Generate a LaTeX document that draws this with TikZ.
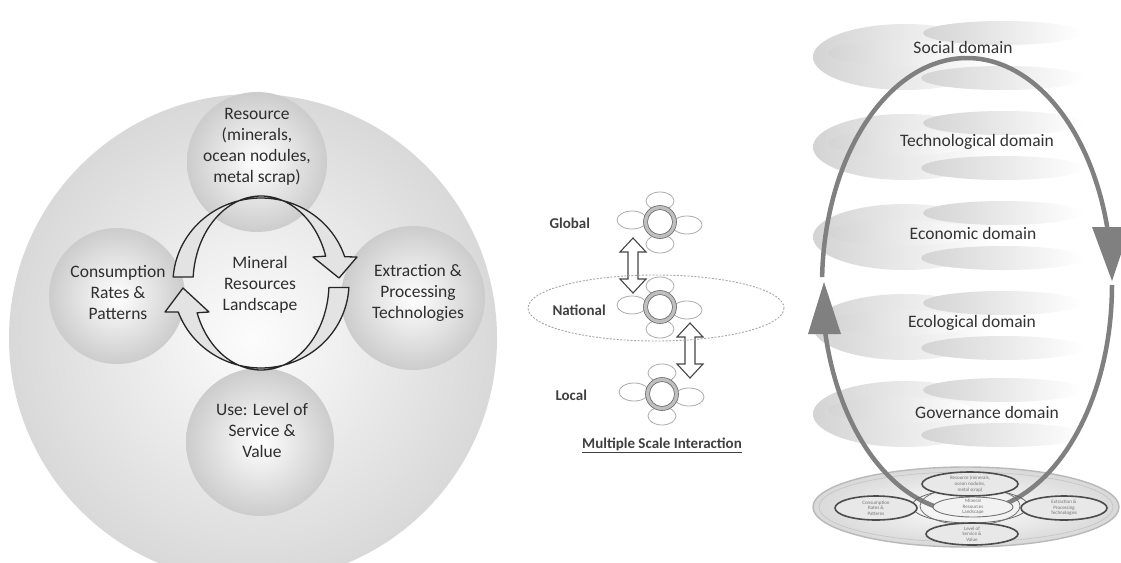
\documentclass[tikz,border=0pt]{standalone}
\usepackage{fontspec}
\setmainfont{Carlito}
\newcommand\clus[2]{%
 \begin{scope}[shift={(#1,#2)}]
  \filldraw[petal] (0,-21) ellipse[x radius=14,y radius=9];
  \filldraw[petal] (-28,-2) ellipse[x radius=15,y radius=9];
  \filldraw[petal] (27,3) ellipse[x radius=15,y radius=9];
  \filldraw[petal] (0,22) ellipse[x radius=14,y radius=9];
  \fill[white] (0,0) circle[radius=13];
  \filldraw[fill=gray!50,draw=black!60,line width=0.6pt,even odd rule] (0,0) circle[radius=16.5] (0,0) circle[radius=12.5];
 \end{scope}}
\newcommand\dblarrow[3]{%
 \filldraw[dbl] (#1,#2) -- (#1+13,#2+14) -- (#1+5,#2+14) -- (#1+5,#3-14) -- (#1+13,#3-14) -- (#1,#3) -- (#1-13,#3-14) -- (#1-5,#3-14) -- (#1-5,#2+14) -- (#1-13,#2+14) -- cycle;}
\newcommand\domaincloud[1]{%
 \shade[left color=gray!34, right color=white] (905,#1+37) ellipse[x radius=92, y radius=33];
 \shade[lens] (1003,#1+13) ellipse[x radius=80, y radius=12];
 \shade[lens] (900,#1+33) ellipse[x radius=72, y radius=13];
 \shade[lens] (1003,#1+58) ellipse[x radius=82, y radius=12];}
\begin{document}
\begin{tikzpicture}[x=1pt,y=-1pt,
  sphere/.style={inner color=white, outer color=gray!40},
  lbl/.style={font=\fontsize{17.5}{21}\selectfont, text=black!82, align=center},
  band/.style={draw=black!85, line width=1.3pt, fill=gray!22, line join=round},
  petal/.style={draw=gray!65, line width=0.8pt, fill=white},
  scl/.style={font=\bfseries\fontsize{15}{17}\selectfont, text=black!75},
  dbl/.style={draw=gray!55!black, line width=1.1pt, fill=white, line join=miter},
  lens/.style={left color=gray!34, right color=white},
  dom/.style={font=\fontsize{17.5}{20}\selectfont, text=black!80},
  loop/.style={draw=black!50, line width=4.5pt},
  head/.style={fill=black!50},
  smallell/.style={draw=black!70, line width=1.6pt, fill=gray!18},
  tiny/.style={font=\fontsize{5}{5.6}\selectfont, text=black!55, align=center, inner sep=0pt}]
\useasboundingbox (0,0) rectangle (1121,562);
\clip (0,0) rectangle (1121,562);
\fill[white] (0,0) rectangle (1121,562);

% ---------- left diagram ----------
\shade[inner color=gray!2, outer color=gray!30] (253,338) circle[radius=244];
\shade[sphere] (257,162) circle[radius=70];
\shade[sphere] (117,296) circle[radius=68];
\shade[sphere] (413,298) circle[radius=72];
\shade[sphere] (260,442) circle[radius=74];

\filldraw[band]
 plot[domain=184:342,samples=60,variable=\t] ({261+88*cos(\t)},{283+85*sin(\t)})
 -- (357,257) -- (339,278) -- (313,257)
 -- plot[domain=342:184,samples=60,variable=\t] ({261+68*cos(\t)},{283+87*sin(\t)})
 -- cycle;
\filldraw[band]
 plot[domain=3:160,samples=60,variable=\t] ({261+88*cos(\t)},{283+85*sin(\t)})
 -- (165,312) -- (183,288) -- (209,312)
 -- plot[domain=160:3,samples=60,variable=\t] ({261+68*cos(\t)},{283+87*sin(\t)})
 -- cycle;

\node[lbl] (res) at (257,147) {Resource\\(minerals,\\ocean nodules,\\metal scrap)};
\node[lbl] (con) at (118,293) {Consumption\\Rates \&\\Patterns};
\node[lbl] (ext) at (418,293) {Extraction \&\\Processing\\Technologies};
\node[lbl] (use) at (262,430) {Use: Level of\\Service \&\\Value};
\node[lbl] (min) at (260,285) {Mineral\\Resources\\Landscape};

% ---------- middle diagram ----------
\clus{660}{222}
\clus{660}{307}
\clus{662}{394}
\dblarrow{633}{238}{293}
\dblarrow{690}{323}{378}
\draw[gray!70, line width=0.9pt, dash pattern=on 2pt off 1.5pt] (656,308) ellipse[x radius=128, y radius=33];
\node[scl, anchor=west] (glob) at (546,223) {Global};
\node[scl, anchor=west] (nat) at (549,310) {National};
\node[scl, anchor=west] (loc) at (552,395) {Local};
\node[scl] (msi) at (662,445) {\underline{Multiple Scale Interaction}};

% ---------- right diagram ----------
\domaincloud{20}
\domaincloud{110}
\domaincloud{200}
\domaincloud{290}
\domaincloud{377}

\shade[inner color=white, outer color=gray!30] (966,507) ellipse[x radius=153, y radius=40];
\draw[gray!55, line width=1.4pt] (966,507) ellipse[x radius=153, y radius=40];
\draw[gray!45, line width=0.7pt] (966,507) ellipse[x radius=147, y radius=35];

\draw[loop] plot[domain=182:346,samples=80,variable=\t] ({967+145*cos(\t)},{285+227*sin(\t)});
\fill[head] (1092,227) -- (1130,227) -- (1112,281) -- cycle;
\draw[loop] plot[domain=0:168,samples=80,variable=\t] ({967+145*cos(\t)},{285+227*sin(\t)});
\fill[head] (808,334) -- (841,334) -- (824,282) -- cycle;

\draw[black!60, line width=0.8pt] (970,506) ellipse[x radius=58, y radius=17];
\draw[black!55, line width=0.8pt] (970,506) ellipse[x radius=50, y radius=19];
\filldraw[smallell] (970,484) ellipse[x radius=48, y radius=12];
\filldraw[smallell] (876,508) ellipse[x radius=41, y radius=12];
\filldraw[smallell] (1064,508) ellipse[x radius=43, y radius=12];
\filldraw[smallell] (972,534) ellipse[x radius=46, y radius=11];
\filldraw[draw=black!55, line width=0.9pt, fill=gray!10] (973,507) ellipse[x radius=40, y radius=10];
\node[tiny] (sres) at (970,484) {Resource (minerals,\\ocean nodules,\\metal scrap)};
\node[tiny] (scon) at (876,508) {Consumption\\Rates \&\\Patterns};
\node[tiny] (sext) at (1064,508) {Extraction \&\\Processing\\Technologies};
\node[tiny] (suse) at (972,534) {Level of\\Service \&\\Value};
\node[tiny] (smin) at (973,507) {Mineral\\Resources\\Landscape};

\node[dom] (soc) at (963,47) {Social domain};
\node[dom] (tec) at (977,142) {Technological domain};
\node[dom] (eco) at (973,233) {Economic domain};
\node[dom] (ecl) at (972,323) {Ecological domain};
\node[dom] (gov) at (987,412) {Governance domain};
\end{tikzpicture}
\end{document}
